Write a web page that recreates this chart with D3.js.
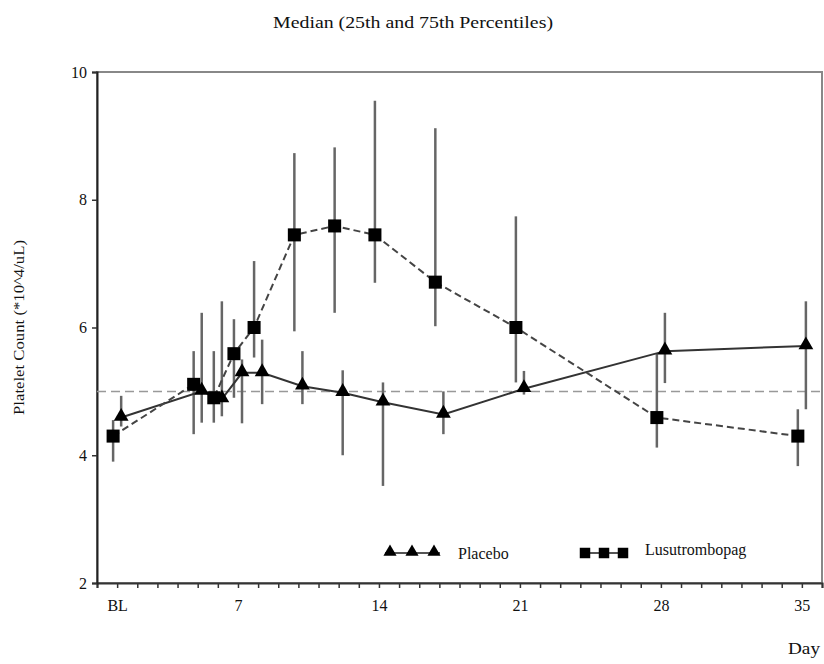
<!DOCTYPE html>
<html>
<head>
<meta charset="utf-8">
<script src="https://cdn.jsdelivr.net/npm/d3@7"></script>
<style>
  body { margin: 0; background: #fff; }
  text { font-family: "Liberation Serif", "Times New Roman", serif; fill: #111; }
</style>
</head>
<body>
<div id="chart"></div>
<script>
// days (BL plotted at day 1)
const days = [1, 5, 6, 7, 8, 10, 12, 14, 17, 21, 28, 35]
const xTickLabels = {1: "BL", 7: "7", 14: "14", 21: "21", 28: "28", 35: "35"}
const yTicks = [2, 4, 6, 8, 10]

// Placebo: median, 25th, 75th
const placeboMed = [4.59, 5.0, 4.88, 5.29, 5.29, 5.08, 4.98, 4.83, 4.64, 5.04, 5.63, 5.71]
const placeboLo  = [4.45, 4.51, 4.61, 4.5, 4.8, 4.8, 4.0, 3.52, 4.33, 4.95, 5.13, 4.72]
const placeboHi  = [4.93, 6.23, 6.41, 5.5, 5.81, 5.63, 5.33, 5.14, 5.0, 5.32, 6.23, 6.41]

// Lusutrombopag: median, 25th, 75th
const lusuMed = [4.3, 5.11, 4.9, 5.59, 6.0, 7.45, 7.59, 7.45, 6.71, 6.0, 4.59, 4.3]
const lusuLo  = [3.9, 4.33, 4.51, 4.9, 5.53, 5.94, 6.23, 6.7, 6.02, 5.14, 4.12, 3.83]
const lusuHi  = [4.55, 5.63, 5.63, 6.13, 7.04, 8.73, 8.82, 9.55, 9.12, 7.74, 5.6, 4.72]

const refLine = 5

const width = 824
const height = 664
const margin = {top: 72, right: 2, bottom: 81, left: 97}

const svg = d3.select("div#chart").append("svg").attr("width", width).attr("height", height)

const x = d3.scaleLinear().domain([0, 36]).range([margin.left, width - margin.right])
const y = d3.scaleLinear().domain([2, 10]).range([height - margin.bottom, margin.top])

// frame
svg.append("rect")
    .attr("x", x(0)).attr("y", y(10))
    .attr("width", x(36) - x(0)).attr("height", y(2) - y(10))
    .attr("fill", "none").attr("stroke", "#888").attr("stroke-width", 2)

// title
svg.append("text").attr("x", 413).attr("y", 28).attr("text-anchor", "middle")
    .attr("textLength", 280).attr("lengthAdjust", "spacingAndGlyphs")
    .style("font-size", "16px").text("Median (25th and 75th Percentiles)")

// axes
const xAxis = d3.axisBottom(x).tickValues(d3.range(0, 37)).tickSize(5).tickPadding(12)
    .tickFormat(d => xTickLabels[d] || "")
const yAxis = d3.axisLeft(y).tickValues(yTicks).tickSize(5).tickPadding(5)

const xAxisGroup = svg.append("g").attr("transform", `translate(0, ${y(2)})`).call(xAxis)
const yAxisGroup = svg.append("g").attr("transform", `translate(${x(0)}, 0)`).call(yAxis)
xAxisGroup.select(".domain").attr("stroke", "#333").attr("stroke-width", 2)
yAxisGroup.select(".domain").attr("stroke", "#222").attr("stroke-width", 2)
xAxisGroup.selectAll(".tick line").attr("stroke", "#333").attr("stroke-width", 1.5)
yAxisGroup.selectAll(".tick line").attr("stroke", "#333").attr("stroke-width", 1.5)
xAxisGroup.selectAll("text").style("font-size", "16px").style("font-family", "Liberation Serif")
yAxisGroup.selectAll("text").style("font-size", "16px").style("font-family", "Liberation Serif")

// axis titles
svg.append("text").attr("transform", `translate(24, ${(y(2) + y(10)) / 2}) rotate(-90)`)
    .attr("text-anchor", "middle").attr("textLength", 175).attr("lengthAdjust", "spacingAndGlyphs")
    .style("font-size", "15px").text("Platelet Count (*10^4/uL)")
svg.append("text").attr("x", 804).attr("y", 654).attr("text-anchor", "middle")
    .attr("textLength", 32).attr("lengthAdjust", "spacingAndGlyphs")
    .style("font-size", "17px").text("Day")

// reference line
svg.append("line")
    .attr("x1", x(0)).attr("x2", x(36)).attr("y1", y(refLine)).attr("y2", y(refLine))
    .attr("stroke", "#999").attr("stroke-width", 1.5).attr("stroke-dasharray", "9,5")

const placebo = days.map((d, i) => ({day: d + 0.2, med: placeboMed[i], lo: placeboLo[i], hi: placeboHi[i]}))
const lusu = days.map((d, i) => ({day: d - 0.2, med: lusuMed[i], lo: lusuLo[i], hi: lusuHi[i]}))

const line = d3.line().x(d => x(d.day)).y(d => y(d.med))

const elementGroup = svg.append("g")

// error bars
function drawBars(data) {
    elementGroup.selectAll(null).data(data).enter().append("line")
        .attr("x1", d => x(d.day)).attr("x2", d => x(d.day))
        .attr("y1", d => y(d.lo)).attr("y2", d => y(d.hi))
        .attr("stroke", "#666").attr("stroke-width", 2.5)
}
drawBars(lusu)
drawBars(placebo)

// lines
elementGroup.append("path").datum(placebo).attr("d", line)
    .attr("fill", "none").attr("stroke", "#333").attr("stroke-width", 2)
elementGroup.append("path").datum(lusu).attr("d", line)
    .attr("fill", "none").attr("stroke", "#444").attr("stroke-width", 2).attr("stroke-dasharray", "7,4")

// markers
const triangle = d3.symbol().type(d3.symbolTriangle).size(95)
const square = d3.symbol().type(d3.symbolSquare).size(170)

elementGroup.selectAll(null).data(lusu).enter().append("path")
    .attr("d", square).attr("transform", d => `translate(${x(d.day)}, ${y(d.med)})`).attr("fill", "#000")
elementGroup.selectAll(null).data(placebo).enter().append("path")
    .attr("d", triangle).attr("transform", d => `translate(${x(d.day)}, ${y(d.med) - 1})`).attr("fill", "#000")

// legend
const legend = svg.append("g")
const legY = 553
legend.append("line").attr("x1", 385).attr("x2", 440).attr("y1", legY).attr("y2", legY)
    .attr("stroke", "#555").attr("stroke-width", 2)
;[390, 412, 434].forEach(cx => {
    legend.append("path").attr("d", d3.symbol().type(d3.symbolTriangle).size(75))
        .attr("transform", `translate(${cx}, ${legY - 1})`).attr("fill", "#000")
})
legend.append("text").attr("x", 458).attr("y", legY + 6).style("font-size", "16px").text("Placebo")

legend.append("line").attr("x1", 580).attr("x2", 628).attr("y1", legY).attr("y2", legY)
    .attr("stroke", "#555").attr("stroke-width", 2)
;[585, 604, 623].forEach(cx => {
    legend.append("path").attr("d", d3.symbol().type(d3.symbolSquare).size(110))
        .attr("transform", `translate(${cx}, ${legY})`).attr("fill", "#000")
})
legend.append("text").attr("x", 645).attr("y", legY + 2).style("font-size", "16px").text("Lusutrombopag")
</script>
</body>
</html>
